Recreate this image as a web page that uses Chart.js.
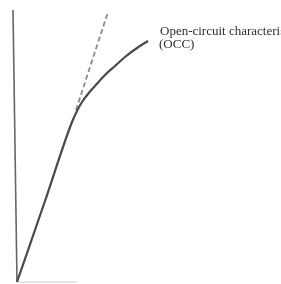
<!DOCTYPE html>
<html>
<head>
<meta charset="utf-8">
<script src="https://cdn.jsdelivr.net/npm/chart.js@4"></script>
<style>
  html, body { margin: 0; padding: 0; background: #fff; }
  #wrap { width: 281px; height: 284px; position: relative; }
</style>
</head>
<body>
<div id="wrap"><canvas id="occ"></canvas></div>
<script>
// field current (x) vs generated voltage (y), units
const occX = [0, 28, 55, 60, 65, 71, 78, 88, 98, 108, 120, 131];
const occY = [0, 81, 160, 171, 180, 188, 196, 207, 216, 225, 234, 241];

// air-gap line (dashed tangent)
const gapX = [59, 91];
const gapY = [172, 270];

// axes
const yAxisX = [0, -4];
const yAxisY = [0, 272];
const xAxisX = [0, 60];
const xAxisY = [0, 0];

const label1 = "Open-circuit characteristic";
const label2 = "(OCC)";

const toPts = (xs, ys) => xs.map((x, i) => ({ x: x, y: ys[i] }));

const labelPlugin = {
  id: "occLabel",
  afterDraw(chart) {
    const ctx = chart.ctx;
    ctx.save();
    ctx.fillStyle = "#2e2e2e";
    ctx.font = "13px 'Liberation Serif', 'DejaVu Serif', serif";
    ctx.textBaseline = "alphabetic";
    ctx.fillText(label1, 160, 35);
    ctx.fillText(label2, 159, 48);
    ctx.restore();
  }
};

new Chart(document.getElementById("occ"), {
  type: "scatter",
  data: {
    datasets: [
      { data: toPts(occX, occY), showLine: true, borderColor: "#4a4a4a", borderWidth: 2.2, pointRadius: 0, tension: 0.4, cubicInterpolationMode: "monotone" },
      { data: toPts(gapX, gapY), showLine: true, borderColor: "#8a8a8a", borderWidth: 1.8, borderDash: [5, 3], pointRadius: 0 },
      { data: toPts(yAxisX, yAxisY), showLine: true, borderColor: "#666", borderWidth: 1.6, pointRadius: 0 },
      { data: toPts(xAxisX, xAxisY), showLine: true, borderColor: "#ccc", borderWidth: 1, pointRadius: 0 }
    ]
  },
  options: {
    responsive: true,
    maintainAspectRatio: false,
    animation: false,
    layout: { padding: 0 },
    plugins: { legend: { display: false }, tooltip: { enabled: false } },
    scales: {
      x: { type: "linear", min: -17, max: 264, display: false },
      y: { type: "linear", min: -2, max: 282, display: false }
    }
  },
  plugins: [labelPlugin]
});
</script>
</body>
</html>
